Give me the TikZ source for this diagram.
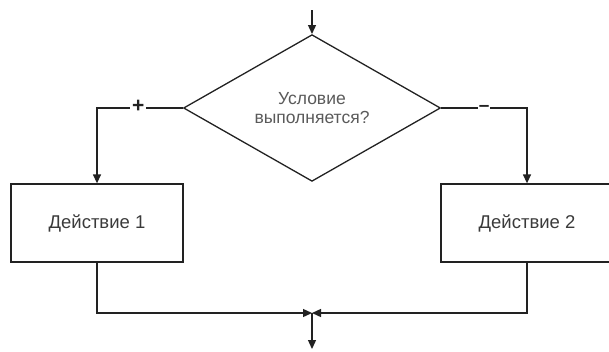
\documentclass[tikz,border=0pt]{standalone}
\usepackage{fontspec}
\setmainfont{Liberation Sans}
\usetikzlibrary{shapes.geometric,arrows.meta}
\definecolor{linec}{HTML}{222222}
\definecolor{boxtext}{HTML}{3A3A3A}
\definecolor{dtext}{HTML}{5A5A5A}
\tikzset{
  flow/.style={line width=1.3pt, draw=linec},
  arr/.style={flow, -{Triangle[length=9pt,width=8pt]}},
  actbox/.style={flow, rectangle, minimum width=172pt, minimum height=78pt, inner sep=0pt,
    font=\fontsize{18.5}{21}\selectfont, text=boxtext},
  cond/.style={flow, diamond, minimum width=257pt, minimum height=116pt, inner sep=0pt,
    font=\fontsize{17.5}{19.5}\selectfont, text=dtext, align=center},
  sign/.style={fill=white, inner xsep=2pt, inner ysep=0pt, text=linec}
}
\begin{document}
\begin{tikzpicture}[x=1pt,y=-1pt]
\useasboundingbox (0,0) rectangle (609,351);
\clip (0,0) rectangle (609,351);
\node[cond] (d) at (312,108) {Условие\\выполняется?};
\node[actbox] (b1) at (97,223) {Действие 1};
\node[actbox] (b2) at (527,223) {Действие 2};
\coordinate (top) at (312,10);
\coordinate (m) at (312,313);
\coordinate (out) at (312,349);
\draw[arr] (top) -- (d.north);
\draw[arr] (d.west) -- node[sign, pos=0.52, yshift=1.5pt, font=\fontsize{21}{21}\bfseries] (plus) {+} (97,108) -- (b1.north);
\draw[arr] (d.east) -- node[sign, pos=0.5, inner xsep=1pt, yshift=-0.5pt, font=\fontsize{19}{19}\bfseries] (minus) {–} (527,108) -- (b2.north);
\draw[arr] (b1.south) |- (m);
\draw[arr] (b2.south) |- (m);
\draw[arr] (m) -- (out);
\end{tikzpicture}
\end{document}
